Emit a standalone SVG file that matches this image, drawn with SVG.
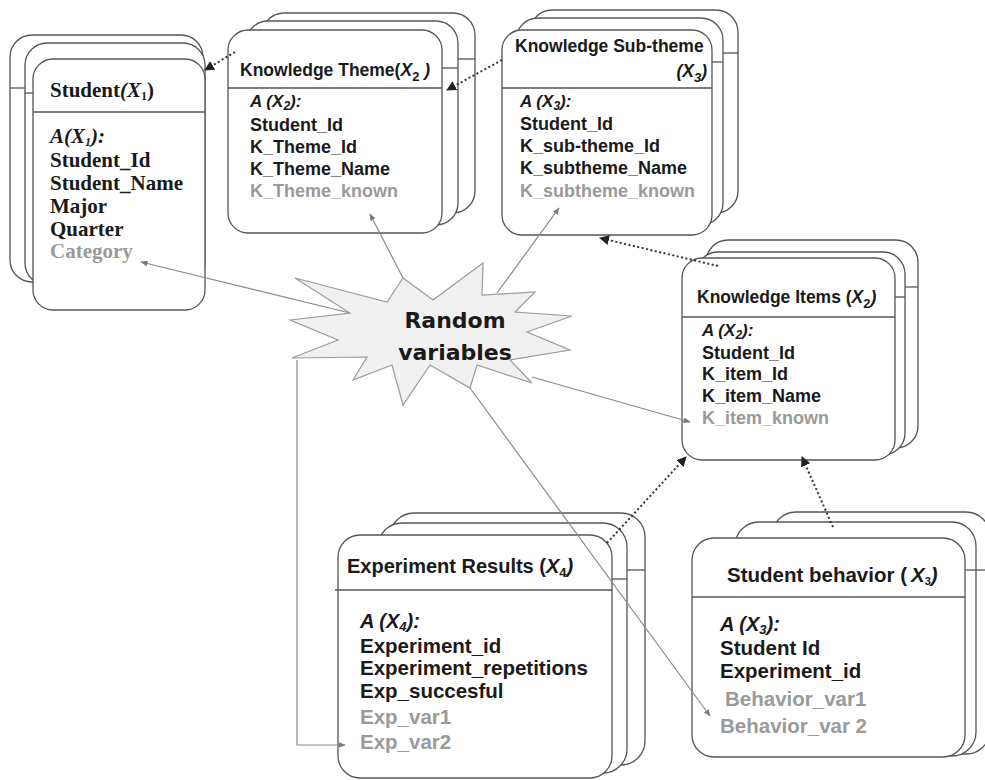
<svg xmlns="http://www.w3.org/2000/svg" width="985" height="780" viewBox="0 0 985 780">
  <style>
    .card { fill: #ffffff; stroke: #555555; stroke-width: 1.3; }
    .rule { stroke: #555555; stroke-width: 1.3; fill: none; }
    .sans { font-family: "Liberation Sans", Arial, sans-serif; font-weight: bold; fill: #1a1a1a; }
    .serif { font-family: "Liberation Serif", "Times New Roman", serif; font-weight: bold; fill: #1a1a1a; font-size: 21px; }
    .faint { fill: #9a9a9a; }
    .it { font-style: italic; }
    .dot { stroke: #333333; stroke-width: 2; stroke-dasharray: 2 2.5; fill: none; marker-end: url(#headDark); }
    .ray { stroke: #8a8a8a; stroke-width: 1.2; fill: none; marker-end: url(#headGray); }
    .burst { fill: #f1f1f1; stroke: #9a9a9a; stroke-width: 1.2; }
    .burstText { font-family: "DejaVu Sans", Verdana, sans-serif; font-weight: bold; font-size: 22px; fill: #1a1a1a; text-anchor: middle; }
  </style>
  <defs>
    <marker id="headDark" viewBox="0 0 10 10" refX="9" refY="5" markerWidth="5" markerHeight="5" orient="auto" markerUnits="strokeWidth">
      <path d="M0,0 L10,5 L0,10 z" fill="#222222"/>
    </marker>
    <marker id="headGray" viewBox="0 0 10 10" refX="9" refY="5" markerWidth="6" markerHeight="6" orient="auto" markerUnits="strokeWidth">
      <path d="M0,1 L10,5 L0,9 z" fill="#7a7a7a"/>
    </marker>
  </defs>

  <rect width="985" height="780" fill="#ffffff"/>

  <!-- Student table (stack offset to the upper left) -->
  <g id="student">
    <rect class="card" x="10" y="35" width="193" height="247" rx="22"/>
    <rect class="card" x="25" y="43" width="180" height="242" rx="22"/>
    <line class="rule" x1="10" y1="88" x2="25" y2="88"/>
    <line class="rule" x1="25" y1="93" x2="33" y2="93"/>
    <rect class="card" x="33" y="59" width="172" height="251" rx="20"/>
    <line class="rule" x1="33" y1="112" x2="205" y2="112"/>
    <text class="serif" x="50" y="97" font-size="18">Student<tspan class="it">(X</tspan><tspan font-size="12" dy="3">1</tspan><tspan dy="-3">)</tspan></text>
    <text class="serif it" x="50" y="143" font-size="19">A(X<tspan font-size="12" dy="3">1</tspan><tspan dy="-3">):</tspan></text>
    <text class="serif" x="50" y="167" font-size="17">Student_Id</text>
    <text class="serif" x="50" y="190" font-size="17">Student_Name</text>
    <text class="serif" x="50" y="213">Major</text>
    <text class="serif" x="50" y="236">Quarter</text>
    <text class="serif faint" x="50" y="258" font-weight="normal">Category</text>
  </g>

  <!-- Knowledge Theme table -->
  <g id="knowledge-theme">
    <rect class="card" x="262" y="13" width="213" height="200" rx="22"/>
    <rect class="card" x="246" y="21" width="212" height="204" rx="22"/>
    <line class="rule" x1="458" y1="59" x2="475" y2="59"/>
    <line class="rule" x1="442" y1="68" x2="458" y2="68"/>
    <rect class="card" x="228" y="30" width="214" height="203" rx="20"/>
    <line class="rule" x1="228" y1="88" x2="442" y2="88"/>
    <text class="sans" x="240" y="76" font-size="17.5">Knowledge Theme(<tspan class="it">X</tspan><tspan font-size="13" dy="5">2</tspan><tspan class="it" dy="-5"> )</tspan></text>
    <text class="sans it" x="250" y="107" font-size="17">A (X<tspan font-size="12" dy="3">2</tspan><tspan dy="-3">):</tspan></text>
    <text class="sans" x="250" y="131" font-size="18">Student_Id</text>
    <text class="sans" x="250" y="153" font-size="18">K_Theme_Id</text>
    <text class="sans" x="250" y="175" font-size="18">K_Theme_Name</text>
    <text class="sans faint" x="250" y="197" font-size="18">K_Theme_known</text>
  </g>

  <!-- Knowledge Sub-theme table -->
  <g id="knowledge-subtheme">
    <rect class="card" x="530" y="10" width="208" height="203" rx="22"/>
    <rect class="card" x="516" y="18" width="207" height="207" rx="22"/>
    <line class="rule" x1="723" y1="53" x2="738" y2="53"/>
    <line class="rule" x1="712" y1="62" x2="723" y2="62"/>
    <rect class="card" x="502" y="30" width="210" height="205" rx="20"/>
    <line class="rule" x1="502" y1="88" x2="712" y2="88"/>
    <text class="sans" x="515" y="52" font-size="17.5">Knowledge Sub-theme</text>
    <text class="sans it" x="707" y="77" font-size="17.5" text-anchor="end">(X<tspan font-size="13" dy="5">3</tspan><tspan dy="-5">)</tspan></text>
    <text class="sans it" x="520" y="107" font-size="17">A (X<tspan font-size="12" dy="3">3</tspan><tspan dy="-3">):</tspan></text>
    <text class="sans" x="520" y="130" font-size="18">Student_Id</text>
    <text class="sans" x="520" y="152" font-size="18">K_sub-theme_Id</text>
    <text class="sans" x="520" y="174" font-size="18">K_subtheme_Name</text>
    <text class="sans faint" x="520" y="197" font-size="18">K_subtheme_known</text>
  </g>

  <!-- Knowledge Items table -->
  <g id="knowledge-items">
    <rect class="card" x="706" y="240" width="212" height="208" rx="22"/>
    <rect class="card" x="696" y="252" width="209" height="203" rx="22"/>
    <line class="rule" x1="905" y1="287" x2="918" y2="287"/>
    <line class="rule" x1="895" y1="297" x2="905" y2="297"/>
    <rect class="card" x="682" y="258" width="213" height="202" rx="20"/>
    <line class="rule" x1="682" y1="317" x2="895" y2="317"/>
    <text class="sans" x="697" y="303" font-size="17.5">Knowledge Items (<tspan class="it">X</tspan><tspan font-size="13" dy="5">2</tspan><tspan class="it" dy="-5">)</tspan></text>
    <text class="sans it" x="702" y="336" font-size="17">A (X<tspan font-size="12" dy="3">2</tspan><tspan dy="-3">):</tspan></text>
    <text class="sans" x="702" y="359" font-size="18">Student_Id</text>
    <text class="sans" x="702" y="380" font-size="18">K_item_Id</text>
    <text class="sans" x="702" y="402" font-size="18">K_item_Name</text>
    <text class="sans faint" x="702" y="424" font-size="18">K_item_known</text>
  </g>

  <!-- Experiment Results table -->
  <g id="experiment-results">
    <rect class="card" x="390" y="513" width="255" height="252" rx="24"/>
    <rect class="card" x="378" y="523" width="249" height="250" rx="24"/>
    <line class="rule" x1="627" y1="570" x2="645" y2="570"/>
    <line class="rule" x1="612" y1="579" x2="627" y2="579"/>
    <rect class="card" x="338" y="535" width="274" height="243" rx="22"/>
    <line class="rule" x1="335" y1="590" x2="612" y2="590"/>
    <text class="sans" x="347" y="573" font-size="20">Experiment Results (<tspan class="it">X</tspan><tspan font-size="13" dy="4">4</tspan><tspan class="it" dy="-4">)</tspan></text>
    <text class="sans it" x="360" y="628" font-size="20">A (X<tspan font-size="13" dy="3">4</tspan><tspan dy="-3">):</tspan></text>
    <text class="sans" x="360" y="653" font-size="20.5">Experiment_id</text>
    <text class="sans" x="360" y="675" font-size="20.5">Experiment_repetitions</text>
    <text class="sans" x="360" y="698" font-size="20.5">Exp_succesful</text>
    <text class="sans faint" x="360" y="724" font-size="20.5">Exp_var1</text>
    <text class="sans faint" x="360" y="749" font-size="20.5">Exp_var2</text>
  </g>

  <!-- Student behavior table -->
  <g id="student-behavior">
    <rect class="card" x="772" y="512" width="218" height="242" rx="24"/>
    <rect class="card" x="735" y="522" width="241" height="234" rx="24"/>
    <line class="rule" x1="965" y1="570" x2="985" y2="570"/>
    <rect class="card" x="692" y="538" width="273" height="219" rx="22"/>
    <line class="rule" x1="692" y1="597" x2="965" y2="597"/>
    <text class="sans" x="727" y="582" font-size="20.5">Student behavior (<tspan class="it" dx="4">X</tspan><tspan font-size="11" dy="3">3</tspan><tspan class="it" dy="-3">)</tspan></text>
    <text class="sans it" x="720" y="631" font-size="20">A (X<tspan font-size="13" dy="3">3</tspan><tspan dy="-3">):</tspan></text>
    <text class="sans" x="720" y="655" font-size="20.5">Student Id</text>
    <text class="sans" x="720" y="678" font-size="20.5">Experiment_id</text>
    <text class="sans faint" x="725" y="706" font-size="20.5">Behavior_var1</text>
    <text class="sans faint" x="720" y="733" font-size="20.5">Behavior_var 2</text>
  </g>

  <!-- Connectors: dotted links between tables, grey rays from the random-variable burst -->
  <g id="connectors">
    <path class="dot" d="M235,52 L205,70"/>
    <path class="dot" d="M502,60 L447,90"/>
    <path class="dot" d="M718,266 L600,238"/>
    <path class="dot" d="M607,543 L686,457"/>
    <path class="dot" d="M833,527 L802,457"/>
    <path class="ray" d="M350,313 L141,262"/>
    <path class="ray" d="M403,278 L370,214"/>
    <path class="ray" d="M497,293 L559,208"/>
    <path class="ray" d="M532,377 L690,422"/>
    <path class="ray" d="M470,388 L710,716"/>
    <path class="ray" d="M297,360 V745 H345"/>
  </g>

  <!-- Random variables burst -->
  <g id="random-variables">
    <polygon class="burst" points="403,278 433,300 483,263 482,295 535,292 515,312 572,316 527,332 570,350 510,360 532,383 477,365 470,388 430,365 403,405 392,365 353,380 367,357 292,358 338,340 290,320 350,313 295,278 387,302"/>
    <text class="burstText" x="455" y="328">Random</text>
    <text class="burstText" x="455" y="360">variables</text>
  </g>
</svg>
